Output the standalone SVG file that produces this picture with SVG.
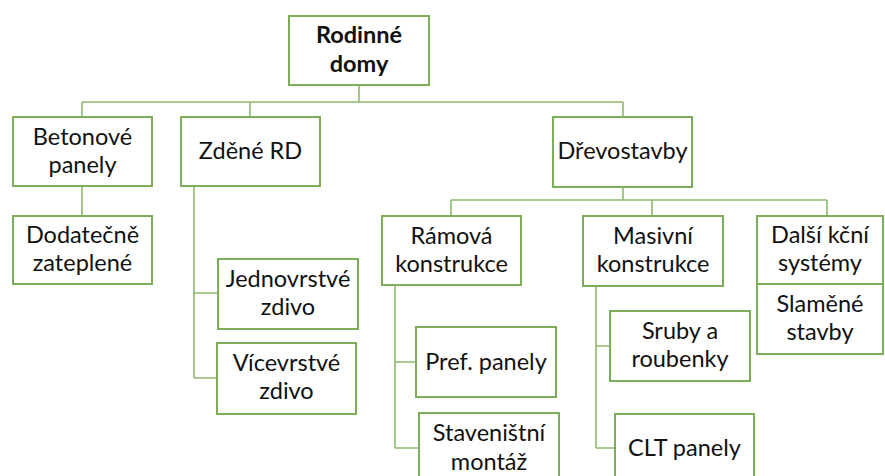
<svg xmlns="http://www.w3.org/2000/svg" width="885" height="476" viewBox="0 0 885 476">
<style>
.box{fill:#ffffff;stroke:#7BAE57;stroke-width:2}
.t{font-family:Lato,"Liberation Sans",sans-serif;font-size:23.5px;fill:#111111;text-anchor:middle}
.b{font-weight:bold}
.c{fill:none;stroke:#8DBA6C;stroke-width:1.6}
</style>
<rect width="885" height="476" fill="#ffffff"/>
<g id="connectors">
<path class="c" d="M359,85V102M82,102H623M82,102V117M250,102V117M623,102V117"/>
<path class="c" d="M82,186V216"/>
<path class="c" d="M194,186V378M194,293H218M194,378H217"/>
<path class="c" d="M623,187V200M451,200H827M451,200V216M652,200V216M827,200V216"/>
<path class="c" d="M395,285V448M395,362H416M395,448H419"/>
<path class="c" d="M596,286V448M596,346H610M596,448H615"/>
</g>
<g id="root"><rect class="box" x="289" y="16" width="140" height="69"/><text class="t b" x="359" y="43">Rodinné</text><text class="t b" x="359" y="72">domy</text></g>
<g id="betonove"><rect class="box" x="13" y="117" width="139" height="69"/><text class="t" x="82.5" y="145">Betonové</text><text class="t" x="82.5" y="173">panely</text></g>
<g id="zdene"><rect class="box" x="181" y="117" width="139" height="69"/><text class="t" x="250.5" y="159">Zděné RD</text></g>
<g id="drevostavby"><rect class="box" x="553" y="117" width="139" height="70"/><text class="t" x="622.5" y="159">Dřevostavby</text></g>
<g id="dodatecne"><rect class="box" x="13" y="216" width="139" height="68"/><text class="t" x="82.5" y="243">Dodatečně</text><text class="t" x="82.5" y="271">zateplené</text></g>
<g id="ramova"><rect class="box" x="382" y="216" width="139" height="69"/><text class="t" x="451.5" y="244">Rámová</text><text class="t" x="451.5" y="272">konstrukce</text></g>
<g id="masivni"><rect class="box" x="583" y="216" width="140" height="70"/><text class="t" x="653" y="244">Masivní</text><text class="t" x="653" y="272">konstrukce</text></g>
<g id="dalsi"><rect class="box" x="757" y="216" width="126" height="68"/><text class="t" x="820" y="243">Další kční</text><text class="t" x="820" y="271">systémy</text></g>
<g id="slamene"><rect class="box" x="757" y="284" width="126" height="70"/><text class="t" x="820" y="312">Slaměné</text><text class="t" x="820" y="340">stavby</text></g>
<g id="jednovrstve"><rect class="box" x="218" y="259" width="140" height="70"/><text class="t" x="288" y="287">Jednovrstvé</text><text class="t" x="288" y="315">zdivo</text></g>
<g id="vicevrstve"><rect class="box" x="217" y="343" width="139" height="71"/><text class="t" x="286.5" y="371">Vícevrstvé</text><text class="t" x="286.5" y="399">zdivo</text></g>
<g id="pref"><rect class="box" x="416" y="327" width="140" height="70"/><text class="t" x="486" y="370">Pref. panely</text></g>
<g id="stavenistni"><rect class="box" x="419" y="413" width="140" height="70"/><text class="t" x="489" y="441">Staveništní</text><text class="t" x="489" y="470">montáž</text></g>
<g id="sruby"><rect class="box" x="610" y="311" width="140" height="70"/><text class="t" x="680" y="339">Sruby a</text><text class="t" x="680" y="367">roubenky</text></g>
<g id="clt"><rect class="box" x="615" y="414" width="139" height="70"/><text class="t" x="684.5" y="456">CLT panely</text></g>
</svg>
